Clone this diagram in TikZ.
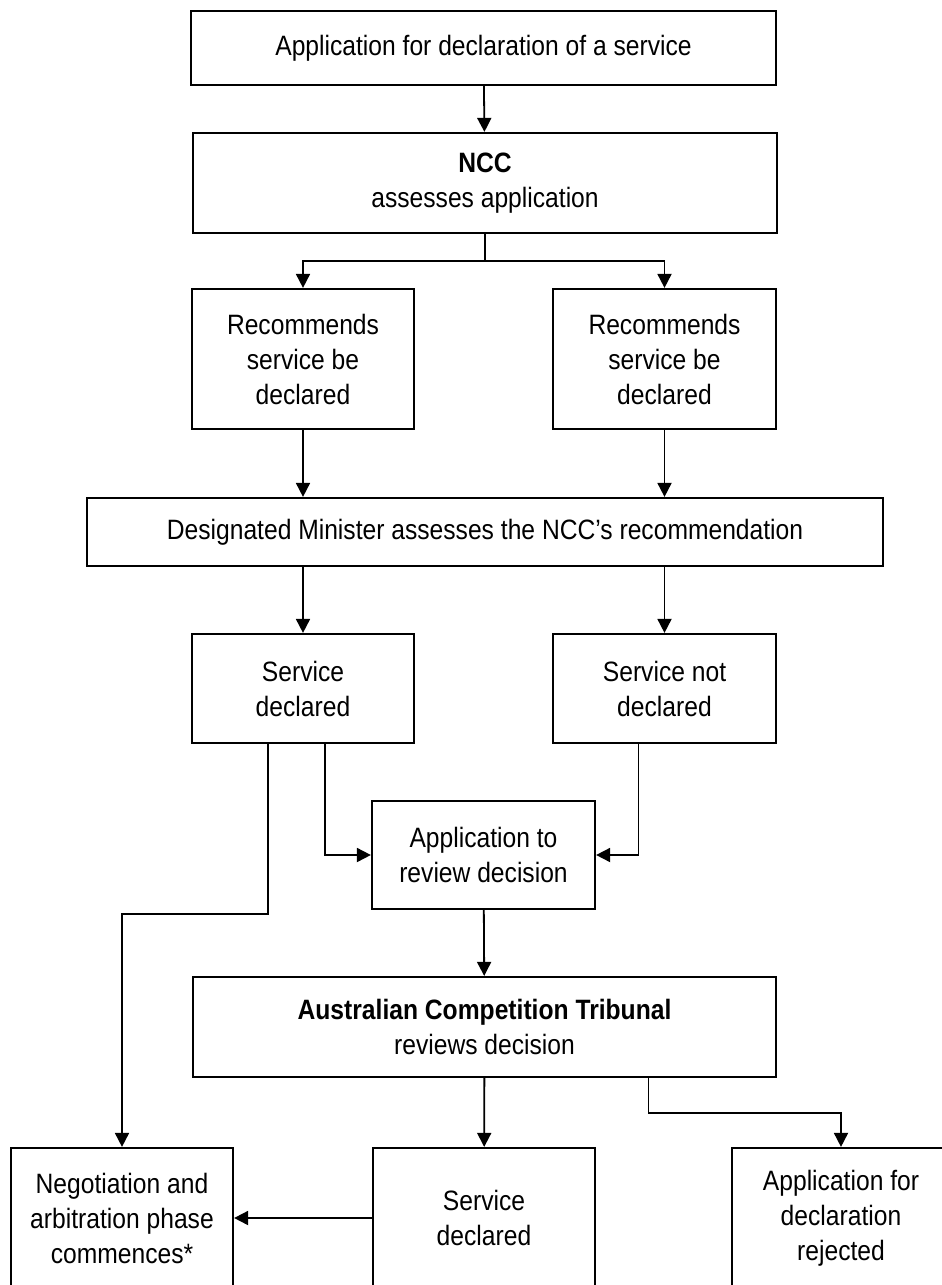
\documentclass[tikz,border=0pt]{standalone}
\usepackage{fontspec}
\setmainfont{Liberation Sans}[FakeStretch=0.88]
\usetikzlibrary{arrows.meta}

\begin{document}
\begin{tikzpicture}
    [x=0.5pt, y=-0.5pt,
     box/.style={draw, line width=1.1pt, align=center, inner sep=0pt,
       font=\fontsize{14pt}{17.5pt}\selectfont},
     arr/.style={line width=0.9pt, -{Triangle[length=7pt, width=7pt]}},
     link/.style={line width=0.9pt}]
    \path[use as bounding box, clip] (0, 0) rectangle (942, 1285);
    \node[box, minimum width=292.5pt, minimum height=37pt] (apply) at (483.5, 48)
      {Application for declaration of a service};
    \node[box, minimum width=292pt, minimum height=50pt] (ncc) at (485, 183)
      {\textbf{NCC}\\assesses application};
    \node[box, minimum width=111pt, minimum height=70pt] (recl) at (303, 359)
      {Recommends\\service be\\declared};
    \node[box, minimum width=111.5pt, minimum height=70pt] (recr) at (664.5, 359)
      {Recommends\\service be\\declared};
    \node[box, minimum width=398pt, minimum height=34pt] (minister) at (485, 532)
      {Designated Minister assesses the NCC’s recommendation};
    \node[box, minimum width=111pt, minimum height=54.5pt] (decl) at (303, 688.5)
      {Service\\declared};
    \node[box, minimum width=111.5pt, minimum height=54.5pt] (notdecl) at (664.5, 688.5)
      {Service not\\declared};
    \node[box, minimum width=111.5pt, minimum height=54pt] (review) at (483.5, 855)
      {Application to\\review decision};
    \node[box, minimum width=291.5pt, minimum height=50pt] (tribunal) at (484.5, 1027)
      {\textbf{Australian Competition Tribunal}\\reviews decision};
    \node[box, minimum width=111pt, minimum height=70pt] (negot) at (122, 1218)
      {Negotiation and\\arbitration phase\\commences*};
    \node[box, minimum width=111pt, minimum height=70pt] (finaldecl) at (484, 1218)
      {Service\\declared};
    \node[box, minimum width=109pt, minimum height=70pt] (reject) at (841, 1218)
      {Application for\\declaration\\rejected};
    \coordinate (split) at (485, 261);
    \coordinate (bend) at (122, 914);
    \coordinate (turn) at (841, 1113);
    \draw[arr] (apply) -- (ncc);
    \draw[link] (ncc) -- (split);
    \draw[arr] (split) -| (recl.north);
    \draw[arr] (split) -| (recr.north);
    \draw[arr] (recl) -- (recl |- minister.north);
    \draw[arr] (recr) -- (recr |- minister.north);
    \draw[arr] (recl |- minister.south) -- (decl);
    \draw[arr] (recr |- minister.south) -- (notdecl);
    \draw[arr] ([xshift=-17.5pt]decl.south) |- (bend) -- (negot.north);
    \draw[arr] ([xshift=11pt]decl.south) |- (review.west);
    \draw[arr] ([xshift=-13pt]notdecl.south) |- (review.east);
    \draw[arr] (review) -- (tribunal);
    \draw[arr] (tribunal) -- (finaldecl);
    \draw[arr] ([xshift=82pt]tribunal.south) |- (turn) -- (reject.north);
    \draw[arr] (finaldecl.west) -- (negot.east);
  \end{tikzpicture}
\end{document}
